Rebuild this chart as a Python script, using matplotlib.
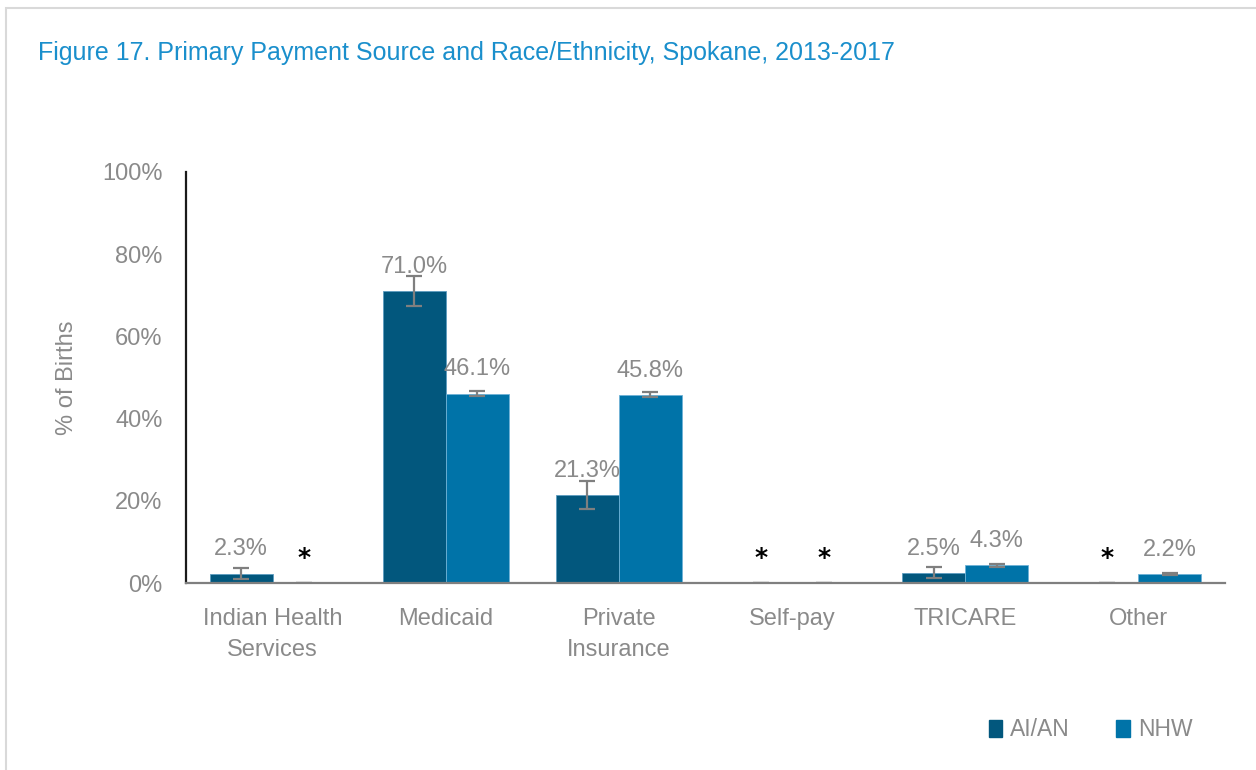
import numpy as np
import matplotlib
matplotlib.use("Agg")
import matplotlib.pyplot as plt
from matplotlib.patches import Patch, Rectangle

# -----------------------------
# Data
# -----------------------------
categories = ["Indian Health\nServices", "Medicaid", "Private\nInsurance", "Self-pay", "TRICARE", "Other"]
aian_values = [2.3, 71.0, 21.3, 0.0, 2.5, 0.0]
nhw_values = [0.0, 46.1, 45.8, 0.0, 4.3, 2.2]
aian_err = [1.3, 3.7, 3.4, 0.0, 1.3, 0.0]
nhw_err = [0.0, 0.7, 0.6, 0.0, 0.3, 0.2]
# suppressed estimates are shown as "*"
aian_suppressed = [False, False, False, True, False, True]
nhw_suppressed = [True, False, False, True, False, False]
yticks = [0, 20, 40, 60, 80, 100]

# -----------------------------
# Style
# -----------------------------
plt.rcParams["font.family"] = ["Liberation Sans Narrow", "Liberation Sans", "DejaVu Sans"]
gray = "#8a8a8a"
c_aian = "#02577d"
c_nhw = "#0073a8"
title_color = "#1a8fcc"

fig = plt.figure(figsize=(12.56, 7.7), dpi=100)
fig.patches.append(Rectangle((6 / 1256, -0.01), 1.1, 1 - 8 / 770 + 0.01, transform=fig.transFigure,
                             fill=False, edgecolor="#d9d9d9", linewidth=1.5))

ax = fig.add_axes([186 / 1256, 1 - 583 / 770, (1225 - 186) / 1256, (583 - 172) / 770])

x = np.arange(len(categories))
w = 0.364

ax.bar(x - w / 2, aian_values, w, color=c_aian, edgecolor="#5d9cc0", linewidth=0.6,
       label="AI/AN", zorder=2)
ax.bar(x + w / 2, nhw_values, w, color=c_nhw, edgecolor="#6fb2d6", linewidth=0.6,
       label="NHW", zorder=2)
ax.errorbar(x - w / 2, aian_values, yerr=aian_err, fmt="none", ecolor="#7f7f7f",
            elinewidth=1.6, capsize=6, capthick=1.6, zorder=3)
ax.errorbar(x + w / 2, nhw_values, yerr=nhw_err, fmt="none", ecolor="#7f7f7f",
            elinewidth=1.6, capsize=6, capthick=1.6, zorder=3)

# -----------------------------
# Labels
# -----------------------------
for xs, vals, sup in [(x - w / 2, aian_values, aian_suppressed), (x + w / 2, nhw_values, nhw_suppressed)]:
    for xi, v, s in zip(xs, vals, sup):
        if s:
            ax.annotate("*", (xi, 0), xytext=(0, 18), textcoords="offset points",
                        ha="center", va="center", fontsize=18, fontweight="bold",
                        color="black", family="DejaVu Sans")
        else:
            ax.annotate(f"{v:.1f}%", (xi, v), xytext=(0, 13), textcoords="offset points",
                        ha="center", va="baseline", fontsize=17, color=gray)

ax.set_ylim(0, 100)
ax.set_xlim(-0.5, len(categories) - 0.5)
ax.set_yticks(yticks)
ax.set_yticklabels([f"{t}%" for t in yticks])
ax.set_xticks(x)
ax.set_xticklabels(categories, linespacing=1.55)
ax.tick_params(axis="both", length=0, labelsize=17, colors=gray)
ax.tick_params(axis="x", pad=18)
ax.tick_params(axis="y", pad=17)
ax.set_ylabel("% of Births", fontsize=17, color=gray, labelpad=17)

for side in ["top", "right"]:
    ax.spines[side].set_visible(False)
ax.spines["left"].set_color("#1a1a1a")
ax.spines["left"].set_linewidth(1.6)
ax.spines["bottom"].set_color("#7f7f7f")
ax.spines["bottom"].set_linewidth(1.6)

fig.text(38 / 1256, 1 - 53 / 770, "Figure 17. Primary Payment Source and Race/Ethnicity, Spokane, 2013-2017",
         fontsize=18, color=title_color, va="center", ha="left")

handles = [Patch(color=c_aian, label="AI/AN"), Patch(color=c_nhw, label="NHW")]
fig.legend(handles=handles, loc="center right", bbox_to_anchor=(1213 / 1256, 1 - 730 / 770),
           ncol=2, frameon=False, fontsize=16.5, handlelength=0.6, handleheight=0.75,
           handletextpad=0.35, columnspacing=2.0, labelcolor=gray)

fig.savefig("out.png", dpi=100)
